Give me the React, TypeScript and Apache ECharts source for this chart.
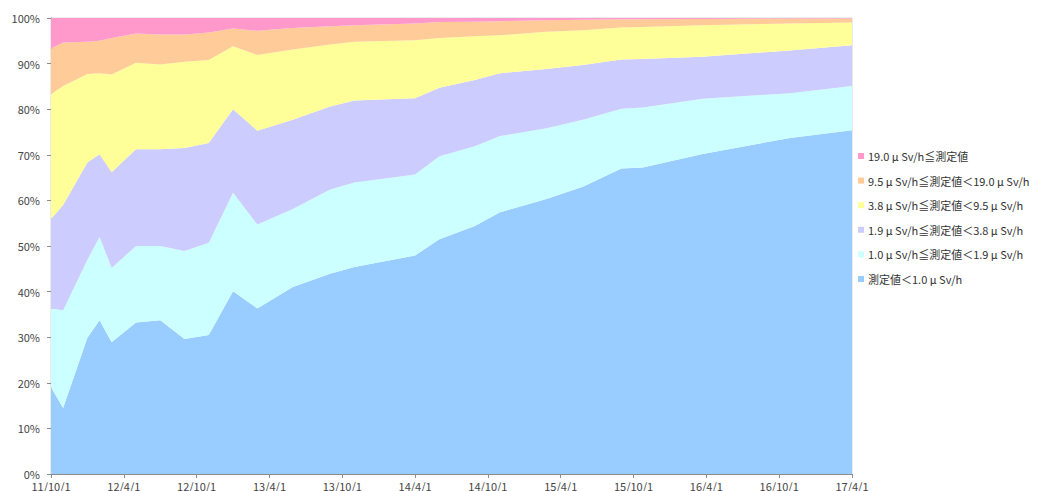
import React, { useEffect, useRef } from "react";
import * as echarts from "echarts";

// Survey dates
const dates = [
  "2011-10-01", "2011-11-01", "2012-01-01", "2012-02-01", "2012-03-01",
  "2012-05-01", "2012-07-01", "2012-09-01", "2012-11-01", "2013-01-01",
  "2013-03-01", "2013-05-29", "2013-09-01", "2013-11-01", "2014-04-01",
  "2014-06-01", "2014-08-29", "2014-11-01", "2015-02-26", "2015-05-26",
  "2015-09-01", "2015-10-24", "2016-03-22", "2016-10-28", "2017-04-01",
];

// Shares (%) per class
const below10 = [19.0, 14.5, 29.9, 33.7, 28.9, 33.2, 33.7, 29.6, 30.5, 40.1, 36.3, 41.0, 43.9, 45.4, 47.9, 51.5, 54.4, 57.4, 60.3, 63.0, 67.0, 67.2, 70.2, 73.7, 75.4];
const from10to19 = [17.3, 21.4, 17.1, 18.3, 16.3, 16.8, 16.3, 19.3, 20.2, 21.6, 18.4, 17.1, 18.5, 18.5, 17.8, 18.2, 17.5, 16.7, 15.5, 14.7, 13.1, 13.2, 12.1, 9.8, 9.7];
const from19to38 = [19.6, 23.1, 21.3, 18.1, 21.0, 21.2, 21.2, 22.6, 21.9, 18.3, 20.6, 19.6, 18.2, 18.0, 16.7, 15.0, 14.5, 13.8, 13.0, 12.0, 10.8, 10.6, 9.2, 9.4, 8.9];
const from38to95 = [27.4, 26.1, 19.4, 17.8, 21.4, 19.0, 18.6, 18.9, 18.2, 13.8, 16.6, 15.4, 13.6, 12.9, 12.7, 10.9, 9.6, 8.3, 8.2, 7.6, 7.0, 7.0, 6.9, 5.9, 5.0];
const from95to190 = [10.0, 9.5, 7.1, 7.1, 8.0, 6.4, 6.6, 6.0, 6.0, 3.9, 5.3, 4.7, 4.0, 3.6, 3.7, 3.5, 3.2, 3.1, 2.5, 2.3, 1.8, 1.7, 1.4, 1.1, 0.9];
const above190 = [6.7, 5.4, 5.2, 5.0, 4.4, 3.4, 3.6, 3.6, 3.2, 2.3, 2.8, 2.2, 1.8, 1.6, 1.2, 0.9, 0.8, 0.7, 0.5, 0.4, 0.3, 0.3, 0.2, 0.1, 0.1];

const seriesNames = [
  "測定値＜1.0 μ Sv/h",
  "1.0 μ Sv/h≦測定値＜1.9 μ Sv/h",
  "1.9 μ Sv/h≦測定値＜3.8 μ Sv/h",
  "3.8 μ Sv/h≦測定値＜9.5 μ Sv/h",
  "9.5 μ Sv/h≦測定値＜19.0 μ Sv/h",
  "19.0 μ Sv/h≦測定値",
];
const seriesValues = [below10, from10to19, from19to38, from38to95, from95to190, above190];
const colors = ["#99CCFF", "#CCFFFF", "#CCCCFF", "#FFFF99", "#FFCC99", "#FF99CC"];

// months since 2011-10-01
function toMonths(d: string): number {
  const [y, m, day] = d.split("-").map(Number);
  return (y - 2011) * 12 + (m - 10) + (day - 1) / 30.4;
}
function tickLabel(v: number): string {
  const t = 9 + Math.round(v);
  const yy = 11 + Math.floor(t / 12);
  const mm = (t % 12) + 1;
  return `${yy}/${mm}/1`;
}

export default function App() {
  const ref = useRef<HTMLDivElement>(null);
  useEffect(() => {
    if (!ref.current) return;
    const chart = echarts.init(ref.current, null, { renderer: "svg" });
    const xs = dates.map(toMonths);
    const font = "'Noto Sans CJK JP', 'Noto Sans', sans-serif";
    chart.setOption({
      animation: false,
      textStyle: { fontFamily: font },
      grid: {
        left: 51, right: 191, top: 18, bottom: 15,
        show: true, borderColor: "#d8d8d8", borderWidth: 1, backgroundColor: "transparent",
      },
      legend: {
        orient: "vertical",
        left: 853,
        top: 145,
        itemWidth: 6,
        itemHeight: 6,
        itemGap: 12.6,
        icon: "rect",
        data: [...seriesNames].reverse(),
        textStyle: { fontSize: 11, lineHeight: 12, color: "#333", fontFamily: font, padding: [0, 0, 0, -1] },
      },
      xAxis: {
        type: "value",
        min: 0,
        max: 66,
        interval: 6,
        axisLine: { show: true, lineStyle: { color: "#8c8c8c" } },
        axisTick: { show: true, length: 4, lineStyle: { color: "#8c8c8c" } },
        splitLine: { show: false },
        axisLabel: { formatter: tickLabel, fontSize: 11, color: "#444", margin: 6, showMinLabel: true, showMaxLabel: true },
      },
      yAxis: {
        type: "value",
        min: 0,
        max: 100,
        interval: 10,
        axisLine: { show: true, lineStyle: { color: "#8c8c8c" } },
        axisTick: { show: true, length: 4, lineStyle: { color: "#8c8c8c" } },
        splitLine: { show: false },
        axisLabel: { formatter: "{value}%", fontSize: 11, color: "#444", margin: 11 },
      },
      series: seriesNames.map((name, i) => ({
        name,
        type: "line",
        stack: "total",
        symbol: "none",
        showSymbol: false,
        lineStyle: { width: 0, opacity: 0 },
        itemStyle: { color: colors[i] },
        areaStyle: { color: colors[i], opacity: 1 },
        // value first so that the share (y) is the stacked dimension
        encode: { x: 1, y: 0 },
        data: xs.map((x, j) => [seriesValues[i][j], x]),
        z: 2,
      })),
    });
    return () => chart.dispose();
  }, []);
  return <div ref={ref} style={{ width: 1043, height: 491, position: "absolute", left: 0, top: 0 }} />;
}
